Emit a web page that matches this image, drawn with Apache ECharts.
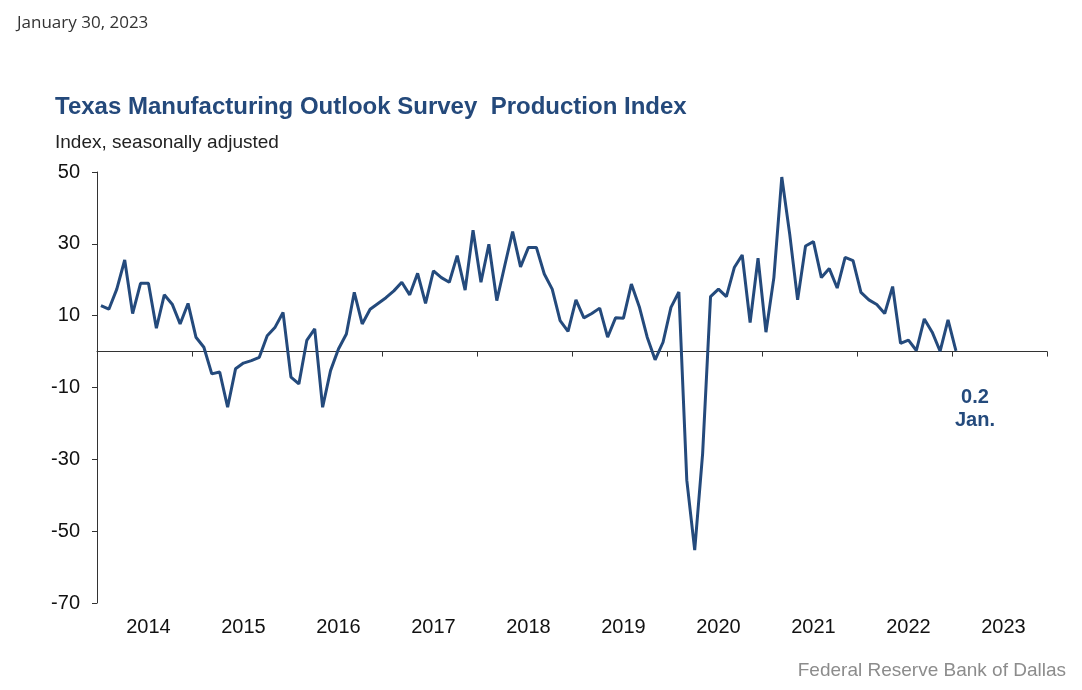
<!DOCTYPE html>
<html>
<head>
<meta charset="utf-8">
<script src="https://cdn.jsdelivr.net/npm/echarts@6/dist/echarts.min.js"></script>
<style>
  html, body { margin: 0; padding: 0; background: #ffffff; }
  #chart { width: 1082px; height: 690px; }
</style>
</head>
<body>
<div id="chart"></div>
<script>
// ---- Data (monthly, Jan 2014 – Jan 2023) ----
const years = ['2014','2015','2016','2017','2018','2019','2020','2021','2022','2023'];
const months = ['01','02','03','04','05','06','07','08','09','10','11','12'];
const productionIndex = [
  12.8, 11.8, 17.4, 25.5, 10.6, 19.0, 19.0, 6.5, 15.8, 13.2, 7.7, 13.4,
  4.0, 1.2, -6.2, -5.7, -15.5, -4.8, -3.2, -2.5, -1.6, 4.4, 6.8, 10.9,
  -7.1, -9.0, 3.1, 6.3, -15.5, -5.3, 0.7, 4.9, 16.5, 7.7, 11.8, 13.4,
  15.0, 16.9, 19.3, 15.8, 21.8, 13.4, 22.5, 20.6, 19.3, 26.7, 17.1, 33.8,
  19.3, 29.9, 14.2, 23.9, 33.4, 23.6, 29.0, 29.0, 21.6, 17.4, 8.6, 5.6,
  14.4, 9.4, 10.6, 12.1, 4.0, 9.4, 9.3, 18.8, 12.5, 4.0, -2.3, 2.6,
  12.3, 16.6, -35.8, -55.3, -28.4, 15.3, 17.4, 15.3, 23.4, 26.9, 8.1, 26.0,
  5.4, 20.6, 48.6, 32.7, 14.4, 29.4, 30.6, 20.6, 23.1, 17.7, 26.2, 25.3,
  16.5, 14.4, 13.1, 10.6, 18.1, 2.3, 3.2, 0.3, 9.1, 5.4, 0.1, 8.8,
  0.2
];
const lastLabel = 'Jan.';
const yMin = -70, yMax = 50, yStep = 20;

const categories = [];
years.forEach(y => months.forEach(m => categories.push(y + '-' + m)));

const lineColor = '#244a7c';
const fontFam = 'Arial, "Liberation Sans", sans-serif';

const seriesData = productionIndex.map((v, i) => {
  if (i === productionIndex.length - 1) {
    return {
      value: v,
      label: {
        show: true,
        position: 'bottom',
        distance: 35,
        offset: [19, 0],
        formatter: p => p.value + '\n' + lastLabel,
        fontFamily: fontFam,
        fontSize: 20,
        fontWeight: 'bold',
        lineHeight: 23,
        color: lineColor,
        align: 'center'
      }
    };
  }
  return v;
});

const chart = echarts.init(document.getElementById('chart'), null, { renderer: 'canvas' });
chart.setOption({
  animation: false,
  backgroundColor: '#ffffff',
  title: [
    { text: 'January 30, 2023', left: 12, top: 10,
      textStyle: { fontFamily: '"Open Sans", sans-serif', fontSize: 17, fontWeight: 'normal', color: '#333' } },
    { text: 'Texas Manufacturing Outlook Survey  Production Index', left: 50, top: 90,
      textStyle: { fontFamily: fontFam, fontSize: 24, fontWeight: 'bold', color: '#24497b' } },
    { text: 'Index, seasonally adjusted', left: 50, top: 128,
      textStyle: { fontFamily: fontFam, fontSize: 19, fontWeight: 'normal', color: '#222' } },
    { text: 'Federal Reserve Bank of Dallas', right: 11, top: 656,
      textStyle: { fontFamily: fontFam, fontSize: 19, fontWeight: 'normal', color: '#8c8c8c' } }
  ],
  grid: { left: 97, right: 35, top: 172, bottom: 87, containLabel: false },
  xAxis: {
    type: 'category',
    data: categories,
    boundaryGap: true,
    axisLine: { onZero: true, lineStyle: { color: '#333', width: 1 } },
    axisTick: { show: true, length: 5, interval: idx => idx % 12 === 0, lineStyle: { color: '#333' } },
    axisLabel: {
      show: true,
      interval: idx => idx % 12 === 6,
      formatter: v => v.slice(0, 4),
      fontFamily: fontFam, fontSize: 20, color: '#111',
      margin: 14
    },
    splitLine: { show: false }
  },
  yAxis: {
    type: 'value',
    min: yMin, max: yMax, interval: yStep,
    axisLine: { show: true, lineStyle: { color: '#333', width: 1 } },
    axisTick: { show: true, inside: false, length: 5, lineStyle: { color: '#333' } },
    axisLabel: { fontFamily: fontFam, fontSize: 20, color: '#111', margin: 17 },
    splitLine: { show: false }
  },
  series: [{
    type: 'line',
    data: seriesData,
    showSymbol: true,
    symbol: 'circle',
    symbolSize: 0,
    lineStyle: { color: lineColor, width: 3 },
    itemStyle: { color: lineColor },
    emphasis: { disabled: true }
  }]
});
</script>
</body>
</html>
